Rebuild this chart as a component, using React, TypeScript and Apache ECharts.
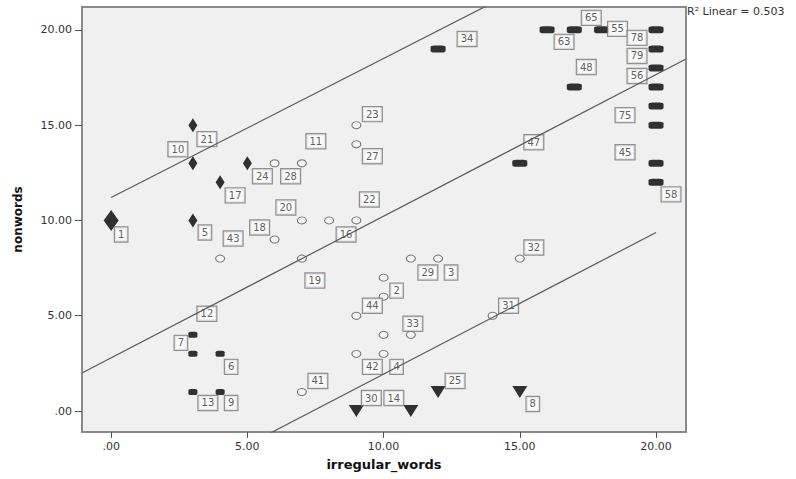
import React, { useEffect, useRef } from "react";
import * as echarts from "echarts";

// [irregular_words, nonwords, case id (null = no label)]
type Pt = [number, number, number | null];

const diamondPoints: Pt[] = [
  [0, 10, 1], [3, 15, 21], [3, 13, 10], [4, 12, 17], [5, 13, 24], [3, 10, 5],
];
const circlePoints: Pt[] = [
  [6, 13, 28], [7, 13, 11], [7, 10, 20], [8, 10, 16], [9, 10, 22], [6, 9, 18],
  [4, 8, 43], [7, 8, 19], [7, 1, 41], [9, 15, 23], [9, 14, 27], [11, 8, 29],
  [12, 8, 3], [10, 7, 2], [10, 6, null], [9, 5, 44], [10, 4, null], [11, 4, 33],
  [9, 3, 42], [10, 3, 4], [14, 5, 31], [15, 8, 32],
];
const trianglePoints: Pt[] = [
  [9, 0, 30], [11, 0, 14], [12, 1, 25], [15, 1, 8],
];
const smallRectPoints: Pt[] = [
  [3, 4, 12], [3, 3, 7], [4, 3, 6], [3, 1, 13], [4, 1, 9],
];
const wideRectPoints: Pt[] = [
  [12, 19, 34], [16, 20, 63], [17, 20, 65], [18, 20, 55], [20, 20, 78],
  [20, 19, 79], [20, 18, 56], [20, 17, null], [20, 16, 75], [20, 15, null],
  [20, 13, 45], [20, 12, 58], [17, 17, 48], [15, 13, 47],
];

// label offsets in pixels (label centre relative to its point)
const labelOffsets: Record<number, [number, number]> = {
  1: [10, 14], 21: [14, 14], 10: [-15, -14], 17: [15, 13], 24: [15, 13], 5: [12, 12],
  28: [16, 13], 11: [14, -22], 20: [-16, -13], 16: [17, 14], 22: [13, -21], 18: [-15, -12],
  43: [13, -20], 19: [13, 22], 41: [16, -11], 23: [16, -11], 27: [16, 12], 29: [17, 14],
  3: [13, 14], 2: [13, 13], 44: [16, -10], 33: [2, -11], 42: [16, 13], 4: [13, 13],
  31: [16, -10], 32: [14, -11], 30: [15, -13], 14: [-17, -13], 25: [17, -11], 8: [13, 12],
  12: [14, -21], 7: [-12, -11], 6: [11, 13], 13: [15, 11], 9: [11, 11],
  34: [29, -10], 63: [17, 12], 65: [17, -12], 55: [16, -1], 78: [-19, 8], 79: [-19, 7],
  56: [-19, 8], 75: [-31, 9], 45: [-31, -11], 58: [15, 12], 48: [12, -20], 47: [14, -21],
};

// regression fit line and 95% individual prediction interval lines
const fitLine: [number, number][] = [[-1.07, 2.0], [21.1, 18.47]];
const upperPI: [number, number][] = [[0, 11.2], [20, 25.8]];
const lowerPI: [number, number][] = [[0, -5.5], [20, 9.37]];

const xTicks = [0, 5, 10, 15, 20];
const yTicks = [0, 5, 10, 15, 20];
const xRange: [number, number] = [-1.07, 21.1];
const yRange: [number, number] = [-1.1, 21.2];
const rSquared = "0.503";

const fmt = (v: number) => (v === 0 ? ".00" : v.toFixed(2));
const FONT = "DejaVu Sans";

export default function App() {
  const ref = useRef<HTMLDivElement>(null);
  useEffect(() => {
    if (!ref.current) return;
    const chart = echarts.init(ref.current, undefined, { renderer: "svg" });

    const allPts = [
      ...diamondPoints, ...circlePoints, ...trianglePoints, ...smallRectPoints, ...wideRectPoints,
    ].filter((p) => p[2] !== null);

    const markerSeries = (
      pts: Pt[], symbol: string, size: number[], style: any, extra: any = {}
    ) => ({
      type: "scatter",
      silent: true,
      z: 3,
      symbol,
      symbolSize: size,
      itemStyle: style,
      data: pts.map((p) => [p[0], p[1]]),
      ...extra,
    });

    const lineSeries = (pts: [number, number][]) => ({
      type: "line",
      silent: true,
      z: 6,
      clip: true,
      symbol: "none",
      lineStyle: { color: "#5a5a5a", width: 1.2 },
      data: pts,
    });

    chart.setOption({
      animation: false,
      grid: {
        left: 82, top: 7, right: 110, bottom: 47,
        show: true, backgroundColor: "#f0f0f0", borderColor: "#8a8a8a", borderWidth: 2,
        outerBoundsMode: "none",
      },
      xAxis: {
        type: "value",
        min: xRange[0], max: xRange[1],
        splitLine: { show: false },
        axisLine: { show: false, onZero: false },
        axisTick: { show: true, customValues: xTicks, length: 6, lineStyle: { color: "#555" } },
        axisLabel: {
          customValues: xTicks, formatter: fmt, margin: 9,
          fontFamily: FONT, fontSize: 11, color: "#333",
        },
        name: "irregular_words",
        nameLocation: "middle",
        nameGap: 26,
        nameTextStyle: { fontFamily: FONT, fontSize: 13, fontWeight: "bold", color: "#111" },
      },
      yAxis: {
        type: "value",
        min: yRange[0], max: yRange[1],
        splitLine: { show: false },
        axisLine: { show: false, onZero: false },
        axisTick: { show: true, customValues: yTicks, length: 7, lineStyle: { color: "#555" } },
        axisLabel: {
          customValues: yTicks, formatter: fmt, margin: 10,
          fontFamily: FONT, fontSize: 11, color: "#333",
        },
        name: "nonwords",
        nameLocation: "middle",
        nameRotate: 90,
        nameGap: 58,
        nameTextStyle: { fontFamily: FONT, fontSize: 12, fontWeight: "bold", color: "#111" },
      },
      graphic: [
        {
          type: "text",
          left: 687,
          top: 6,
          silent: true,
          style: { text: "R² Linear = " + rSquared, font: `11px "${FONT}"`, fill: "#333" },
        },
      ],
      series: [
        lineSeries(fitLine),
        lineSeries(upperPI),
        lineSeries(lowerPI),
        {
          type: "scatter",
          silent: true,
          z: 3,
          symbol: "diamond",
          itemStyle: { color: "#000" },
          data: diamondPoints.map((p, i) => ({
            value: [p[0], p[1]],
            symbolSize: i === 0 ? [15, 21] : [9, 14],
          })),
        },
        markerSeries(circlePoints, "circle", [9, 7], {
          color: "#f6f6f6", borderColor: "#555", borderWidth: 1,
        }),
        markerSeries(trianglePoints, "triangle", [15, 12], { color: "#000" }, { symbolRotate: 180 }),
        markerSeries(smallRectPoints, "roundRect", [9, 6], { color: "#000" }),
        markerSeries(wideRectPoints, "roundRect", [15, 7], { color: "#000" }),
        {
          type: "scatter",
          silent: true,
          z: 5,
          symbol: "rect",
          symbolSize: 1,
          itemStyle: { color: "rgba(0,0,0,0)" },
          label: {
            show: true,
            position: "inside",
            formatter: "{b}",
            fontFamily: FONT,
            fontSize: 10,
            lineHeight: 11,
            color: "#333",
            backgroundColor: "#fbfbfb",
            borderColor: "#777",
            borderWidth: 1.2,
            padding: [2, 3, 1, 3],
          },
          data: allPts.map((p) => ({
            name: String(p[2]),
            value: [p[0], p[1]],
            label: { offset: labelOffsets[p[2] as number] || [12, 12] },
          })),
        },
      ],
    });
    return () => chart.dispose();
  }, []);
  return (
    <div
      ref={ref}
      style={{ position: "fixed", left: 0, top: 0, width: 796, height: 479, background: "#fff" }}
    />
  );
}
